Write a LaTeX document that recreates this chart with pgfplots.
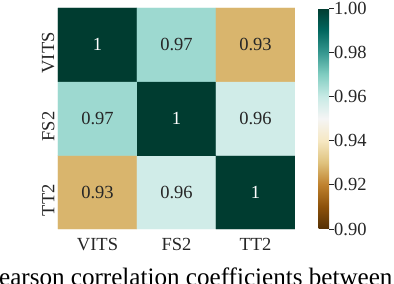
\documentclass[border=0pt]{standalone}
\usepackage{pgfplots}
\pgfplotsset{compat=1.18}
\usepackage{fontspec}
\setmainfont{Liberation Serif}
\definecolor{txt}{HTML}{262626}
\pgfplotsset{
  colormap={brbg}{rgb255=(84,48,5) rgb255=(140,81,10) rgb255=(191,129,45) rgb255=(223,194,125) rgb255=(246,232,195) rgb255=(245,245,245) rgb255=(199,234,229) rgb255=(128,205,193) rgb255=(53,151,143) rgb255=(1,102,94) rgb255=(0,60,48)}
}
\begin{document}
\begin{tikzpicture}
\useasboundingbox (-58bp,-55bp) rectangle (336bp,229bp);
\clip (-58bp,-55bp) rectangle (336bp,229bp);
\begin{axis}[
  at={(0,0)}, anchor=south west,
  scale only axis, width=237bp, height=221bp,
  xmin=-0.5, xmax=2.5, ymin=-0.5, ymax=2.5,
  xtick={0,1,2}, xticklabels={VITS,FS2,TT2},
  ytick={0,1,2}, yticklabels={TT2,FS2,VITS},
  major tick length=0pt,
  axis line style={draw=none},
  tick label style={font=\fontsize{18.5bp}{20bp}\selectfont, text=txt},
  xticklabel style={yshift=-6bp},
  yticklabel style={rotate=90, anchor=south, xshift=-8bp},
  colormap name=brbg,
  point meta min=0.9, point meta max=1.0,
  colorbar,
  colorbar style={
    at={(parent axis.north east)}, anchor=north west, xshift=15bp,
    scale only axis, width=10.7bp, height=221bp,
    ymin=0.9, ymax=1.0,
    ytick={0.90,0.92,0.94,0.96,0.98,1.00},
    yticklabel pos=right, ytick pos=right,
    tick align=outside, major tick length=4.5bp,
    axis line style={draw=none},
    ytick style={draw=txt, line width=0.8bp},
    yticklabel style={font=\fontsize{18.5bp}{20bp}\selectfont, text=txt, xshift=-3bp,
      /pgf/number format/fixed, /pgf/number format/fixed zerofill,
      /pgf/number format/precision=2, /pgf/number format/assume math mode=true},
  },
]
\addplot[matrix plot*, mesh/cols=3, point meta=explicit] table[meta=c] {
x y c
0 0 0.928
1 0 0.958
2 0 1.000
0 1 0.966
1 1 1.000
2 1 0.958
0 2 1.000
1 2 0.966
2 2 0.928
};
\addplot[draw=none, mark=none, nodes near coords, point meta=explicit symbolic,
  nodes near coords style={anchor=center, text=white, font=\fontsize{18.5bp}{20bp}\selectfont}]
  table[meta=lab] {
x y lab
0 2 1
1 1 1
2 0 1
};
\addplot[draw=none, mark=none, nodes near coords, point meta=explicit symbolic,
  nodes near coords style={anchor=center, text=txt, font=\fontsize{18.5bp}{20bp}\selectfont}]
  table[meta=lab] {
x y lab
1 2 0.97
2 2 0.93
0 1 0.97
2 1 0.96
0 0 0.93
1 0 0.96
};
\end{axis}
\node[anchor=base west, inner sep=0pt, text=black, font=\fontsize{25.1bp}{28bp}\selectfont] at (-73bp,-56bp) {Pearson correlation coefficients between};
\end{tikzpicture}
\end{document}
